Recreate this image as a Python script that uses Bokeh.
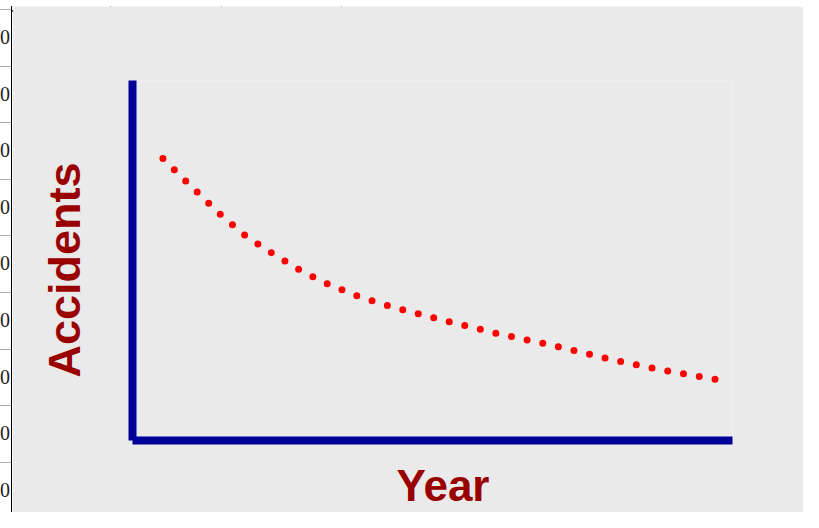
from bokeh.plotting import figure
from bokeh.models import Range1d, FixedTicker, Title, Div
from bokeh.layouts import column, row
from bokeh.embed import file_html
from bokeh.resources import INLINE

# data
years = [1990, 1991, 1992, 1993, 1994, 1995, 1996, 1997, 1998, 1999, 2000,
         2001, 2002, 2003, 2004, 2005, 2006, 2007, 2008, 2009, 2010]
accidents = [705, 637, 570, 511, 466, 424, 390, 362, 340, 321, 303,
             286, 269, 254, 239, 223, 206, 191, 177, 165, 153]
x_label = "Year"
y_label = "Accidents"
cell_text = ["0", "0", "0", "0", "0", "0", "0", "0", "0"]

BG = "#EAEAEA"
AXIS = "#000099"
TXT = "#990000"

W, H = 803, 512
LEFT_STRIP, TOP_STRIP = 12, 6

p = figure(width=W - LEFT_STRIP, height=H - TOP_STRIP, output_backend="svg",
           toolbar_location=None,
           x_range=Range1d(1988.9, 2010.6), y_range=Range1d(0, 900),
           min_border_left=132 - LEFT_STRIP, min_border_right=W - 732,
           min_border_top=80 - TOP_STRIP, min_border_bottom=H - 440)
p.background_fill_color = BG
p.border_fill_color = BG
p.outline_line_color = None
p.grid.visible = False

# one hidden tick per axis (background colour, unlabeled) keeps space
# between each axis line and its title
p.xaxis.ticker = FixedTicker(ticks=[2000])
p.yaxis.ticker = FixedTicker(ticks=[450])
p.xaxis.major_label_overrides = {2000: ""}
p.yaxis.major_label_overrides = {450: ""}
for ax in (p.xaxis, p.yaxis):
    ax.axis_line_width = 8
    ax.axis_line_color = AXIS
    ax.major_tick_line_color = BG
    ax.minor_tick_line_color = None
    ax.major_tick_in = -6
    ax.minor_tick_out = 0
    ax.major_label_text_font_size = "0px"
    ax.major_label_standoff = 0
p.xaxis.major_tick_out = 20
p.yaxis.major_tick_out = 43

p.line(years, accidents, line_color="#FF0000", line_width=7,
       line_dash="0 16", line_cap="round")

p.add_layout(Title(text=x_label, align="left", offset=264, vertical_align="top",
                   standoff=0, text_font="Liberation Sans", text_font_style="bold",
                   text_font_size="44px", text_color=TXT), "below")
p.add_layout(Title(text=y_label, align="left", offset=63, vertical_align="bottom",
                   standoff=0, text_font="Liberation Sans", text_font_style="bold",
                   text_font_size="45px", text_color=TXT), "left")

# spreadsheet strips around the embedded chart
vlines = "".join(
    f'<div style="position:absolute;left:{x}px;top:0;width:1px;height:5px;background:#9a9a9a"></div>'
    for x in (110, 221, 341))
top_html = (f'<div style="position:relative;width:{W}px;height:{TOP_STRIP}px;'
            f'background:white;overflow:hidden">{vlines}'
            f'<div style="position:absolute;left:11px;top:4px;width:{W}px;height:2px;background:#000"></div></div>')
top_div = Div(text=top_html, width=W, height=TOP_STRIP, margin=0)

cells = ""
for i, t in enumerate(cell_text):
    ytop = 3 + 56.6 * i
    cells += (f'<div style="position:absolute;left:0;top:{ytop:.1f}px;width:11px;height:1px;background:#b0b0b0"></div>'
              f'<div style="position:absolute;right:2px;top:{ytop + 18:.1f}px;font:20px \'Liberation Serif\';'
              f'line-height:20px;color:#222">{t}</div>')
left_html = (f'<div style="position:relative;width:{LEFT_STRIP}px;height:{H - TOP_STRIP}px;'
             f'background:white;overflow:hidden">{cells}'
             f'<div style="position:absolute;left:11px;top:0;width:1px;height:{H}px;background:#000"></div></div>')
left_div = Div(text=left_html, width=LEFT_STRIP, height=H - TOP_STRIP, margin=0)

layout = column(top_div, row(left_div, p, spacing=0), spacing=0)

open("out.html", "w").write(file_html(layout, INLINE))
